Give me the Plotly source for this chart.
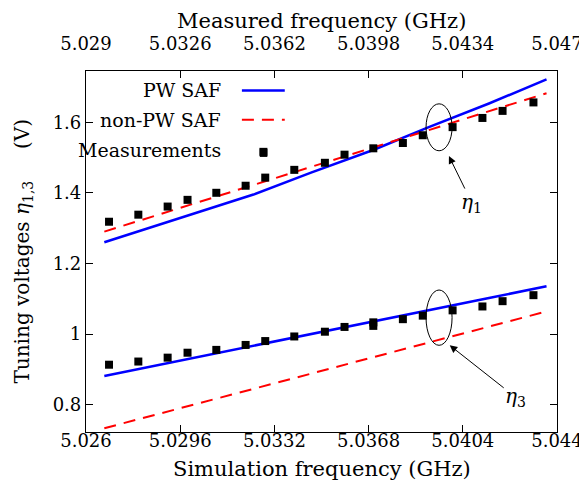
import plotly.graph_objects as go

# simulation frequency (GHz) -> bottom axis
sim_freq = [5.0267, 5.0296, 5.0324, 5.0346, 5.0370, 5.0391, 5.0414, 5.0436]
pw_eta1 = [1.260, 1.328, 1.395, 1.457, 1.522, 1.586, 1.653, 1.721]
npw_eta1 = [1.290, 1.357, 1.422, 1.473, 1.529, 1.578, 1.631, 1.682]
pw_eta3 = [0.881, 0.925, 0.967, 1.000, 1.036, 1.067, 1.102, 1.135]
npw_eta3 = [0.733, 0.790, 0.845, 0.888, 0.935, 0.976, 1.021, 1.064]

# measured frequency (GHz) -> top axis
meas_freq1 = [5.02988, 5.03100, 5.03212, 5.03288, 5.03398, 5.03510, 5.03578, 5.03585, 5.03696,
              5.03813, 5.03888, 5.03998, 5.04111, 5.04187, 5.04301, 5.04415, 5.04492, 5.04610]
meas_eta1 = [1.318, 1.338, 1.361, 1.380, 1.400, 1.420, 1.516, 1.443, 1.465,
             1.485, 1.508, 1.526, 1.541, 1.563, 1.586, 1.612, 1.632, 1.656]
meas_freq3 = [5.02988, 5.03100, 5.03212, 5.03288, 5.03398, 5.03510, 5.03585, 5.03696, 5.03813,
              5.03888, 5.03998, 5.03998, 5.04111, 5.04187, 5.04301, 5.04415, 5.04492, 5.04610]
meas_eta3 = [0.913, 0.922, 0.933, 0.947, 0.955, 0.969, 0.980, 0.993, 1.0065,
             1.020, 1.033, 1.023, 1.042, 1.052, 1.067, 1.078, 1.093, 1.110]

bot_ticks = [5.026, 5.0296, 5.0332, 5.0368, 5.0404, 5.044]
bot_labels = ["5.026", "5.0296", "5.0332", "5.0368", "5.0404", "5.044"]
top_ticks = [5.029, 5.0326, 5.0362, 5.0398, 5.0434, 5.047]
top_labels = ["5.029", "5.0326", "5.0362", "5.0398", "5.0434", "5.047"]
y_ticks = [0.8, 1.0, 1.2, 1.4, 1.6]
y_labels = ["0.8", "1", "1.2", "1.4", "1.6"]

FONT = "DejaVu Serif"
FS = 19
TFS = 18
BLUE = "#0000ff"
RED = "#ff0000"

fig = go.Figure()

for ys in (pw_eta1, pw_eta3):
    fig.add_trace(go.Scatter(x=sim_freq, y=ys, mode="lines",
                             line=dict(color=BLUE, width=2.5)))
for ys in (npw_eta1, npw_eta3):
    fig.add_trace(go.Scatter(x=sim_freq, y=ys, mode="lines",
                             line=dict(color=RED, width=2, dash="12px,8px")))
for fx, ys in ((meas_freq1, meas_eta1), (meas_freq3, meas_eta3)):
    fig.add_trace(go.Scatter(x=fx, y=ys, mode="markers", xaxis="x2",
                             marker=dict(symbol="square", size=8, color="black")))

axis_common = dict(showgrid=False, zeroline=False, showline=True, linecolor="black",
                   linewidth=1.2, ticks="inside", ticklen=7, tickcolor="black",
                   tickfont=dict(family=FONT, size=TFS, color="black"))

fig.update_layout(
    width=587, height=485,
    margin=dict(l=78, r=26, t=63, b=61),
    plot_bgcolor="white", paper_bgcolor="white",
    showlegend=False,
    font=dict(family=FONT, size=FS, color="black"),
    xaxis=dict(range=[5.026, 5.044], tickvals=bot_ticks, ticktext=bot_labels,
               ticklabelstandoff=-8, **axis_common),
    xaxis2=dict(range=[5.029, 5.047], tickvals=top_ticks, ticktext=top_labels,
                overlaying="x", side="top", ticklabelstandoff=13, **axis_common),
    yaxis=dict(range=[0.7224, 1.745], tickvals=y_ticks, ticktext=y_labels,
               mirror="ticks", **axis_common),
)

# axis titles
fig.add_annotation(text="Simulation frequency (GHz)", xref="paper", yref="paper",
                   x=0.5, y=0, yshift=-37, showarrow=False, yanchor="middle",
                   font=dict(size=21))
fig.add_annotation(text="Measured frequency (GHz)", xref="paper", yref="paper",
                   x=0.5, y=1, yshift=50, showarrow=False, yanchor="middle",
                   font=dict(size=21))
fig.add_annotation(text="Tuning voltages <i>η</i><sub>1,3</sub>     (V)",
                   xref="paper", yref="paper", x=0, y=0.5, xshift=-64,
                   textangle=-90, showarrow=False, xanchor="center", yanchor="middle",
                   font=dict(size=20))

# legend (gnuplot style: text right, sample after)
leg = [("PW SAF", 0.946, "line"), ("non-PW SAF", 0.865, "dash"), ("Measurements", 0.782, "sq")]
for txt, yy, kind in leg:
    fig.add_annotation(text=txt, xref="paper", yref="paper", x=0.29, y=yy,
                       xanchor="right", yanchor="middle", showarrow=False)
    if kind == "line":
        fig.add_shape(type="line", xref="paper", yref="paper", x0=0.331, x1=0.422,
                      y0=yy, y1=yy, line=dict(color=BLUE, width=2.5))
    elif kind == "dash":
        fig.add_shape(type="line", xref="paper", yref="paper", x0=0.331, x1=0.422,
                      y0=yy, y1=yy, line=dict(color=RED, width=2, dash="12px,8px"))
    else:
        fig.add_shape(type="rect", xref="paper", yref="paper", x0=0.369, x1=0.385,
                      y0=yy - 0.02, y1=yy + 0.002, fillcolor="black", line=dict(width=0))

# ellipses around the curves
fig.add_shape(type="circle", xref="x", yref="y", x0=5.038995, x1=5.03999,
              y0=1.519, y1=1.652, line=dict(color="black", width=1))
fig.add_shape(type="circle", xref="x", yref="y", x0=5.038995, x1=5.03999,
              y0=0.968, y1=1.1246, line=dict(color="black", width=1))

# labels with arrows
fig.add_annotation(text="<i>η</i><sub>1</sub>", x=5.03987, y=1.504, xref="x", yref="y",
                   ax=23, ay=47, showarrow=True, arrowhead=2, arrowsize=1.5,
                   arrowwidth=1, arrowcolor="black", font=dict(size=20))
fig.add_annotation(text="<i>η</i><sub>3</sub>", x=5.0399, y=0.968, xref="x", yref="y",
                   ax=66, ay=52, showarrow=True, arrowhead=2, arrowsize=1.5,
                   arrowwidth=1, arrowcolor="black", font=dict(size=20))

fig.write_html("out.html")
